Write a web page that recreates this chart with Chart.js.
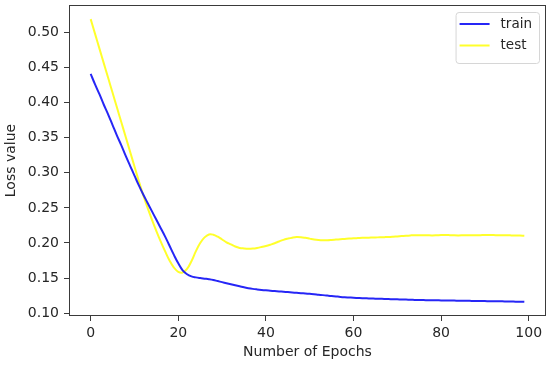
<!DOCTYPE html>
<html lang="en">
<head>
  <meta charset="UTF-8" />
  <title>Loss curves</title>
  <style>
    html, body { margin: 0; padding: 0; background: #fff; }
    #wrap { width: 550px; height: 365px; }
  </style>
</head>
<body>
  <div id="wrap"><canvas id="lossChart" width="550" height="365"></canvas></div>
  <script src="https://cdn.jsdelivr.net/npm/chart.js"></script>
  <script>
    // loss per epoch (epoch = index)
    const trainLoss = [
      0.441, 0.426, 0.412, 0.397, 0.383, 0.368, 0.353, 0.339, 0.324, 0.310,
      0.296, 0.282, 0.269, 0.257, 0.245, 0.233, 0.221, 0.209, 0.196, 0.183,
      0.171, 0.161, 0.1555, 0.1525, 0.151, 0.1500, 0.1492, 0.1484, 0.1473, 0.1457,
      0.1442, 0.1427, 0.1412, 0.1397, 0.1383, 0.1368, 0.1356, 0.1346, 0.1338, 0.1331,
      0.1325, 0.1320, 0.1315, 0.1310, 0.1305, 0.1300, 0.1295, 0.1290, 0.1285, 0.1280,
      0.1275, 0.1270, 0.1263, 0.1257, 0.1250, 0.1244, 0.1238, 0.1232, 0.1227, 0.1223,
      0.1219, 0.1216, 0.1213, 0.1211, 0.1209, 0.1207, 0.1205, 0.1203, 0.1201, 0.1199,
      0.1197, 0.1195, 0.1193, 0.1191, 0.1189, 0.1187, 0.1186, 0.1185, 0.1184, 0.1183,
      0.1182, 0.1181, 0.1180, 0.1179, 0.1178, 0.1177, 0.1176, 0.1175, 0.1174, 0.1173,
      0.1172, 0.1171, 0.1170, 0.1169, 0.1168, 0.1167, 0.1166, 0.1164, 0.1163, 0.1161
    ];
    const testLoss = [
      0.519, 0.498, 0.477, 0.456, 0.435, 0.414, 0.393, 0.372, 0.351, 0.330,
      0.309, 0.288, 0.268, 0.250, 0.233, 0.217, 0.202, 0.188, 0.175, 0.165,
      0.159, 0.158, 0.163, 0.174, 0.188, 0.200, 0.208, 0.2122, 0.2118, 0.209,
      0.205, 0.201, 0.198, 0.195, 0.193, 0.1922, 0.1918, 0.1921, 0.1930, 0.1943,
      0.1958, 0.1976, 0.1996, 0.2022, 0.2045, 0.2062, 0.2076, 0.2085, 0.2083, 0.2074,
      0.2062, 0.2050, 0.2042, 0.2038, 0.2039, 0.2043, 0.2048, 0.2053, 0.2058, 0.2063,
      0.2067, 0.2070, 0.2073, 0.2075, 0.2077, 0.2079, 0.2081, 0.2083, 0.2085, 0.2089,
      0.2094, 0.2099, 0.2104, 0.2108, 0.2111, 0.2112, 0.2111, 0.2109, 0.2108, 0.2110,
      0.2113, 0.2114, 0.2112, 0.2109, 0.2108, 0.2110, 0.2112, 0.2111, 0.2110, 0.2112,
      0.2114, 0.2115, 0.2113, 0.2110, 0.2109, 0.2110, 0.2108, 0.2105, 0.2106, 0.2104
    ];
    const seriesNames = ['train', 'test'];
    const xTicks = [0, 20, 40, 60, 80, 100];
    const yTicks = [0.10, 0.15, 0.20, 0.25, 0.30, 0.35, 0.40, 0.45, 0.50];

    const FONT = 'DejaVu Sans';
    const FS = 14;
    const TXT = '#262626';
    const AX = '#3a3a3a';

    // matplotlib-ish 5% margins around the data
    const all = trainLoss.concat(testLoss);
    const yLo = Math.min(...all), yHi = Math.max(...all);
    const yPad = (yHi - yLo) * 0.05;
    const nEp = trainLoss.length - 1;
    const xPad = nEp * 0.05;

    const toXY = arr => arr.map((v, i) => ({ x: i, y: v }));

    // axes frame (all four spines)
    const framePlugin = {
      id: 'frame',
      afterDatasetsDraw(chart) {
        const { ctx, chartArea: a } = chart;
        ctx.save();
        ctx.strokeStyle = AX;
        ctx.lineWidth = 1;
        ctx.strokeRect(Math.round(a.left) + 0.5, Math.round(a.top) + 0.5,
          Math.round(a.right - a.left) - 1, Math.round(a.bottom - a.top) - 1);
        ctx.restore();
      }
    };

    // boxed legend in the upper right corner, like plt.legend()
    const legendBox = {
      id: 'legendBox',
      afterDraw(chart) {
        const { ctx, chartArea: a } = chart;
        const sets = chart.data.datasets;
        ctx.save();
        ctx.font = '13.5px "' + FONT + '"';
        const tw = Math.max(...sets.map(d => ctx.measureText(d.label).width));
        const rowH = 21.5;
        const w = 4 + 30 + 11 + tw + 7;
        const h = 8 + rowH * sets.length;
        const x0 = a.right - 7 - w;
        const y0 = a.top + 7;
        ctx.beginPath();
        ctx.roundRect(x0 + 0.5, y0 + 0.5, w, h, 3);
        ctx.fillStyle = 'rgba(255,255,255,0.8)';
        ctx.fill();
        ctx.strokeStyle = '#d6d6d6';
        ctx.lineWidth = 1;
        ctx.stroke();
        sets.forEach((d, i) => {
          const cy = y0 + 12 + i * rowH;
          ctx.beginPath();
          ctx.moveTo(x0 + 4, cy);
          ctx.lineTo(x0 + 34, cy);
          ctx.strokeStyle = d.borderColor;
          ctx.lineWidth = 2;
          ctx.stroke();
          ctx.fillStyle = TXT;
          ctx.textBaseline = 'middle';
          ctx.textAlign = 'left';
          ctx.fillText(d.label, x0 + 45, cy);
        });
        ctx.restore();
      }
    };

    new Chart(document.getElementById('lossChart'), {
      type: 'line',
      data: {
        datasets: [
          {
            label: seriesNames[0],
            data: toXY(trainLoss),
            borderColor: 'rgba(20,20,245,0.92)',
            borderWidth: 2,
            pointRadius: 0,
            tension: 0.4
          },
          {
            label: seriesNames[1],
            data: toXY(testLoss),
            borderColor: 'rgba(255,255,20,0.9)',
            borderWidth: 2,
            pointRadius: 0,
            tension: 0.4
          }
        ]
      },
      options: {
        responsive: false,
        animation: false,
        layout: { padding: { left: 0, right: 4, top: 5, bottom: 0 } },
        plugins: {
          legend: { display: false },
          tooltip: { enabled: false }
        },
        scales: {
          x: {
            type: 'linear',
            min: -xPad,
            max: nEp + xPad,
            afterBuildTicks: s => { s.ticks = xTicks.map(v => ({ value: v })); },
            afterFit: s => { s.height = 49; s.paddingLeft = 0; s.paddingRight = 0; },
            border: { display: false },
            grid: { drawOnChartArea: false, drawTicks: true, tickLength: 5, color: AX },
            ticks: {
              padding: 4,
              color: TXT,
              font: { family: FONT, size: FS },
              maxRotation: 0,
              callback: v => String(v)
            },
            title: {
              display: true,
              text: 'Number of Epochs',
              color: TXT,
              font: { family: FONT, size: FS },
              padding: { top: 0, bottom: 4 }
            }
          },
          y: {
            type: 'linear',
            min: yLo - yPad,
            max: yHi + yPad,
            afterBuildTicks: s => { s.ticks = yTicks.map(v => ({ value: v })); },
            afterFit: s => { s.width = 69; s.paddingTop = 0; s.paddingBottom = 0; },
            border: { display: false },
            grid: { drawOnChartArea: false, drawTicks: true, tickLength: 5, color: AX },
            ticks: {
              padding: 5,
              color: TXT,
              font: { family: FONT, size: FS },
              callback: v => v.toFixed(2)
            },
            title: {
              display: true,
              text: 'Loss value',
              color: TXT,
              font: { family: FONT, size: FS },
              padding: { top: 3, bottom: 0 }
            }
          }
        }
      },
      plugins: [framePlugin, legendBox]
    });
  </script>
</body>
</html>
